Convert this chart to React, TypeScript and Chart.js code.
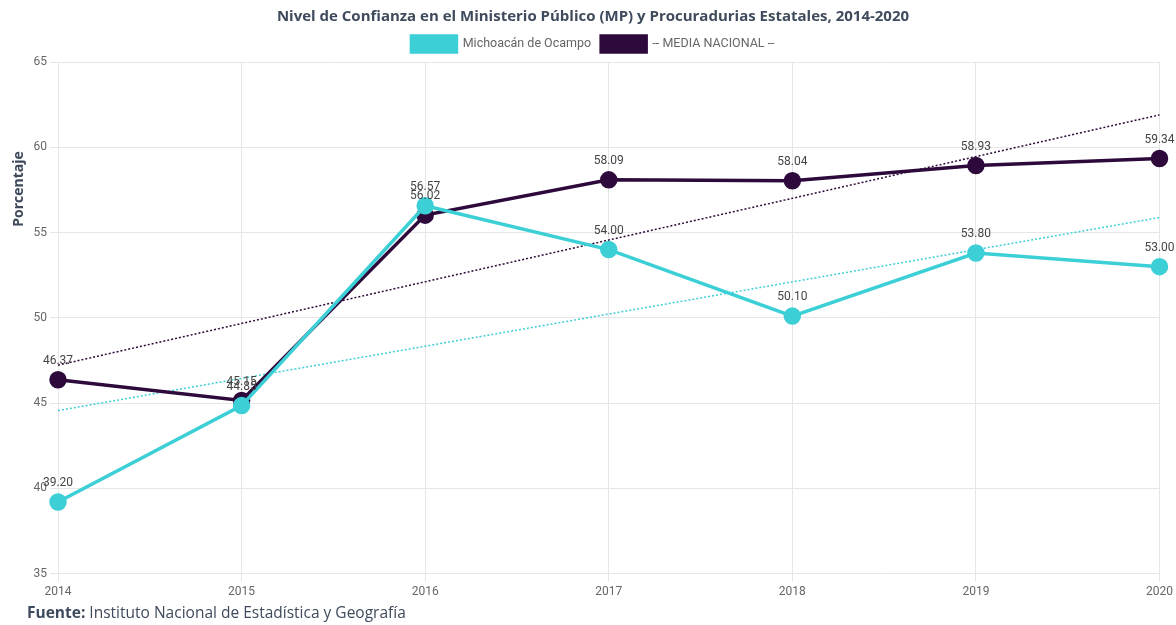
import React, { useEffect, useRef } from "react";
import { Chart, registerables } from "chart.js";

Chart.register(...registerables);

const years = ["2014", "2015", "2016", "2017", "2018", "2019", "2020"];
const michoacan = [39.2, 44.85, 56.57, 54.0, 50.1, 53.8, 53.0];
const media = [46.37, 45.15, 56.02, 58.09, 58.04, 58.93, 59.34];
const trendMichoacan = [44.56, null, null, null, null, null, 55.88];
const trendMedia = [47.22, null, null, null, null, null, 61.9];

const TITLE = "Nivel de Confianza en el Ministerio Público (MP) y Procuradurias Estatales, 2014-2020";
const Y_TITLE = "Porcentaje";
const CYAN = "#3ccfd6";
const PURPLE = "#2e0a3c";
const SLATE = "#3f4b5c";
const FONT = "Roboto, 'Liberation Sans', Arial, sans-serif";

const labelPlugin = {
  id: "valueLabels",
  afterDatasetsDraw(chart: any) {
    const ctx = chart.ctx;
    ctx.save();
    ctx.font = "12px " + FONT;
    ctx.fillStyle = "#444";
    ctx.textAlign = "center";
    ctx.textBaseline = "middle";
    [1, 0].forEach((di) => {
      const meta = chart.getDatasetMeta(di);
      const ds = chart.data.datasets[di];
      meta.data.forEach((pt: any, i: number) => {
        const v = ds.data[i];
        if (v == null) return;
        ctx.fillText(Number(v).toFixed(2), pt.x, pt.y - 19);
      });
    });
    ctx.restore();
  },
  afterDraw(chart: any) {
    const ctx = chart.ctx;
    ctx.save();
    ctx.textBaseline = "middle";
    ctx.textAlign = "left";
    ctx.fillStyle = SLATE;
    ctx.font = "bold 15.5px 'Open Sans', sans-serif";
    const b = "Fuente:";
    ctx.fillText(b, 27, 614);
    const w = ctx.measureText(b).width;
    ctx.font = "15.5px 'Open Sans', sans-serif";
    ctx.fillText(" Instituto Nacional de Estadística y Geografía", 27 + w, 614);
    // y-axis title
    ctx.translate(19, 189);
    ctx.rotate(-Math.PI / 2);
    ctx.textAlign = "center";
    ctx.font = "bold 14px 'Open Sans', sans-serif";
    ctx.fillText(Y_TITLE, 0, 0);
    ctx.restore();
  },
};

export default function App() {
  const ref = useRef<HTMLCanvasElement>(null);
  useEffect(() => {
    if (!ref.current) return;
    const chart = new Chart(ref.current, {
      type: "line",
      data: {
        labels: years,
        datasets: [
          {
            label: "Michoacán de Ocampo",
            data: michoacan,
            borderColor: CYAN,
            backgroundColor: CYAN,
            borderWidth: 3.5,
            pointRadius: 7,
            pointHoverRadius: 7,
            pointBackgroundColor: CYAN,
            pointBorderColor: CYAN,
            tension: 0,
          },
          {
            label: "-- MEDIA NACIONAL --",
            data: media,
            borderColor: PURPLE,
            backgroundColor: PURPLE,
            borderWidth: 3.5,
            pointRadius: 7,
            pointHoverRadius: 7,
            pointBackgroundColor: PURPLE,
            pointBorderColor: PURPLE,
            tension: 0,
          },
          {
            label: "trend1",
            data: trendMichoacan,
            borderColor: CYAN,
            borderWidth: 1.5,
            borderDash: [2, 2],
            pointRadius: 0,
            spanGaps: true,
            fill: false,
          },
          {
            label: "trend2",
            data: trendMedia,
            borderColor: PURPLE,
            borderWidth: 1.5,
            borderDash: [2, 2],
            pointRadius: 0,
            spanGaps: true,
            fill: false,
          },
        ],
      },
      options: {
        animation: false,
        responsive: true,
        maintainAspectRatio: false,
        layout: { padding: { left: 10, right: 0, top: 0, bottom: 23 } },
        plugins: {
          tooltip: { enabled: false },
          title: {
            display: true,
            text: TITLE,
            color: SLATE,
            font: { family: "'Open Sans', sans-serif", size: 15, weight: "bold" },
            padding: { top: 8, bottom: 0 },
          },
          legend: {
            labels: {
              filter: (item: any) => item.datasetIndex < 2,
              boxWidth: 45,
              boxHeight: 16,
              color: "#666",
              font: { family: FONT, size: 12.5 },
            },
          },
        },
        scales: {
          x: {
            grid: { color: "#e6e6e6", tickLength: 8 },
            border: { color: "#e6e6e6" },
            ticks: { color: "#666", font: { family: FONT, size: 12 } },
          },
          y: {
            min: 35,
            max: 65,
            afterFit: (scale: any) => {
              scale.width = 48;
            },
            grid: { color: "#e6e6e6", tickLength: 8 },
            border: { color: "#e6e6e6" },
            ticks: { stepSize: 5, color: "#666", font: { family: FONT, size: 12 } },
          },
        },
      },
      plugins: [labelPlugin],
    });
    return () => chart.destroy();
  }, []);
  return (
    <div style={{ position: "absolute", left: 0, top: 0, width: 1176, height: 625 }}>
      <canvas ref={ref} />
    </div>
  );
}
